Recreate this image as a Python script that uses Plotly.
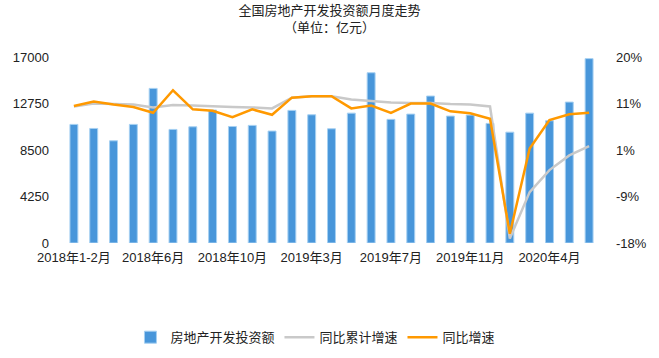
import plotly.graph_objects as go

months = (["2018年1-2月"] + [f"2018年{m}月" for m in range(3, 13)]
          + ["2019年1-2月"] + [f"2019年{m}月" for m in range(3, 13)]
          + ["2020年1-2月", "2020年3月", "2020年4月", "2020年5月", "2020年6月"])

investment = [10840, 10470, 9340, 10840, 14130, 10380, 10620, 12150, 10650, 10750, 10230,
              12120, 11720, 10440, 11870, 15560, 11300, 11780, 13430, 11600, 11690, 10930,
              10130, 11870, 11170, 12880, 16850]

cum_growth = [9.9, 10.5, 10.4, 10.3, 9.7, 10.2, 10.1, 9.9, 9.8, 9.7, 9.5,
              11.7, 12.0, 12.0, 11.3, 11.0, 10.7, 10.6, 10.6, 10.4, 10.3, 9.9,
              -17.1, -7.6, -3.1, -0.1, 1.8]

yoy_growth = [10.0, 10.9, 10.3, 9.8, 8.6, 13.2, 9.3, 9.0, 7.7, 9.3, 8.2,
              11.7, 12.0, 12.0, 9.5, 10.1, 8.6, 10.5, 10.5, 8.9, 8.5, 7.4,
              -16.1, 1.3, 7.1, 8.3, 8.6]

x_tick_labels = ["2018年1-2月", "2018年6月", "2018年10月", "2019年3月", "2019年7月", "2019年11月", "2020年4月"]
left_ticks = [0, 4250, 8500, 12750, 17000]
left_tick_text = ["0", "4250", "8500", "12750", "17000"]
right_ticks = [-18, -8.5, 1, 10.5, 20]
right_tick_text = ["-18%", "-9%", "1%", "11%", "20%"]

FONT = "Liberation Sans, Noto Sans CJK SC, sans-serif"

fig = go.Figure()
fig.add_trace(go.Bar(
    x=months, y=investment, name="房地产开发投资额",
    marker=dict(color="#4896da", line=dict(color="#a6d0f2", width=1)),
    yaxis="y",
))
fig.add_trace(go.Scatter(
    x=months, y=cum_growth, name="同比累计增速", mode="lines",
    line=dict(color="#c9c9c9", width=2.5), yaxis="y2",
))
fig.add_trace(go.Scatter(
    x=months, y=yoy_growth, name="同比增速", mode="lines",
    line=dict(color="#ff9900", width=2.5), yaxis="y2",
))

fig.update_layout(
    width=659, height=358,
    margin=dict(l=64, r=60, t=57, b=115),
    paper_bgcolor="white", plot_bgcolor="white",
    font=dict(family=FONT, size=13, color="#222"),
    title=dict(
        text="全国房地产开发投资额月度走势<br>（单位：亿元）",
        x=0.5, xref="container", xanchor="center",
        y=0.957, yref="container", yanchor="top",
        font=dict(size=13, color="#222"),
    ),
    bargap=0.6,
    showlegend=True,
    legend=dict(
        orientation="h", x=0.47, xanchor="center",
        y=0.058, yref="container", yanchor="middle",
        font=dict(size=13, color="#222"),
        itemwidth=30, tracegroupgap=0,
    ),
    xaxis=dict(
        type="category", tickmode="array", tickvals=x_tick_labels, ticktext=x_tick_labels,
        showgrid=False, showline=False, zeroline=False, ticks="", tickangle=0,
        ticklabelstandoff=5, tickfont=dict(size=13),
    ),
    yaxis=dict(
        range=[0, 17000], tickmode="array", tickvals=left_ticks, ticktext=left_tick_text,
        showgrid=False, zeroline=False, showline=False, ticks="",
        ticklabelstandoff=14, tickfont=dict(size=13),
    ),
    yaxis2=dict(
        range=[-18, 20], tickmode="array", tickvals=right_ticks, ticktext=right_tick_text,
        overlaying="y", side="right",
        showgrid=False, zeroline=False, showline=False, ticks="",
        ticklabelstandoff=16, tickfont=dict(size=13),
    ),
    hovermode=False,
)

fig.write_html("out.html", config={"displayModeBar": False},
               post_script="document.body.style.margin='0';document.body.style.padding='0';")
